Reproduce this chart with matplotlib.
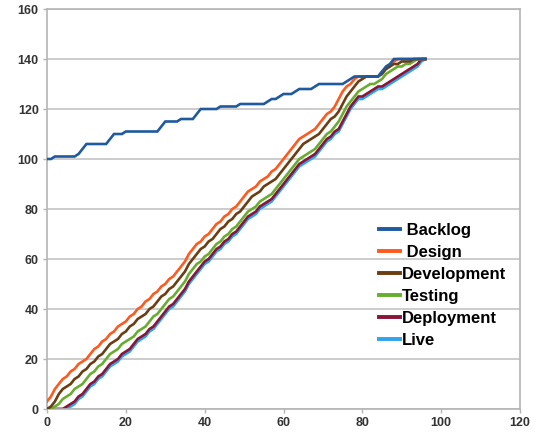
import matplotlib
matplotlib.use("Agg")
import matplotlib.pyplot as plt

plt.rcParams['font.family'] = ['Liberation Sans', 'DejaVu Sans']

days = list(range(97))

backlog = [100, 100, 101, 101, 101, 101, 101, 101, 102, 104,
           106, 106, 106, 106, 106, 106, 108, 110, 110, 110,
           111, 111, 111, 111, 111, 111, 111, 111, 111, 113,
           115, 115, 115, 115, 116, 116, 116, 116, 118, 120,
           120, 120, 120, 120, 121, 121, 121, 121, 121, 122,
           122, 122, 122, 122, 122, 122, 123, 124, 124, 125,
           126, 126, 126, 127, 128, 128, 128, 128, 129, 130,
           130, 130, 130, 130, 130, 130, 131, 132, 133, 133,
           133, 133, 133, 133, 133, 135, 137, 138, 140, 140,
           140, 140, 140, 140, 140, 140, 140]

design = [3, 5, 8, 10, 12, 13, 15, 16, 18, 19,
          20, 22, 24, 25, 27, 28, 30, 31, 33, 34,
          35, 37, 38, 40, 41, 43, 44, 46, 47, 49,
          50, 52, 53, 55, 57, 59, 62, 64, 66, 67,
          69, 70, 72, 74, 75, 77, 78, 80, 81, 83,
          85, 87, 88, 89, 91, 92, 93, 95, 96, 98,
          100, 102, 104, 106, 108, 109, 110, 111, 112, 114,
          116, 118, 119, 121, 124, 127, 129, 130, 132, 133,
          133, 133, 133, 133, 133, 135, 136, 137, 139, 140,
          140, 140, 140, 140, 140, 140, 140]

development = [0, 1, 3, 6, 8, 9, 10, 12, 13, 15,
               16, 18, 19, 21, 22, 24, 26, 27, 28, 30,
               31, 33, 34, 36, 37, 38, 40, 41, 43, 45,
               46, 48, 49, 51, 53, 55, 58, 60, 62, 64,
               65, 67, 68, 70, 72, 73, 75, 76, 78, 79,
               81, 83, 85, 86, 87, 89, 90, 91, 92, 94,
               96, 98, 100, 102, 104, 106, 107, 108, 109, 110,
               112, 114, 116, 117, 119, 122, 125, 127, 129, 131,
               132, 133, 133, 133, 133, 134, 136, 137, 138, 138,
               139, 139, 139, 140, 140, 140, 140]

testing = [0, 0, 1, 2, 4, 5, 6, 8, 9, 10,
           12, 14, 15, 17, 18, 20, 22, 23, 24, 26,
           27, 28, 29, 31, 32, 33, 35, 37, 38, 40,
           42, 44, 45, 47, 49, 51, 54, 56, 58, 59,
           61, 62, 64, 66, 67, 69, 70, 72, 73, 75,
           77, 79, 80, 81, 83, 84, 85, 86, 88, 90,
           92, 94, 96, 98, 100, 101, 102, 103, 104, 106,
           108, 110, 111, 113, 115, 118, 121, 123, 125, 127,
           128, 129, 130, 130, 131, 132, 134, 135, 136, 137,
           137, 138, 138, 139, 140, 140, 140]

deployment = [0, 0, 0, 0, 0, 1, 2, 3, 5, 6,
              8, 10, 11, 13, 14, 16, 18, 19, 20, 22,
              23, 24, 26, 28, 29, 30, 32, 33, 35, 37,
              39, 41, 42, 44, 46, 48, 51, 53, 55, 57,
              59, 60, 62, 64, 65, 67, 68, 70, 71, 73,
              75, 77, 78, 79, 81, 82, 83, 84, 86, 88,
              90, 92, 94, 96, 98, 99, 100, 101, 102, 104,
              106, 108, 109, 111, 112, 115, 118, 121, 123, 125,
              125, 126, 127, 128, 129, 129, 130, 131, 132, 133,
              134, 135, 136, 137, 138, 140, 140]

live = [0, 0, 0, 0, 0, 0, 1, 2, 4, 5,
        7, 9, 10, 12, 13, 15, 17, 18, 19, 21,
        22, 23, 25, 27, 28, 29, 31, 32, 34, 36,
        38, 40, 41, 43, 45, 47, 50, 52, 54, 56,
        58, 59, 61, 63, 64, 66, 67, 69, 70, 72,
        74, 76, 77, 78, 80, 81, 82, 83, 85, 87,
        89, 91, 93, 95, 97, 98, 99, 100, 101, 103,
        105, 107, 108, 110, 111, 114, 117, 120, 122, 124,
        124, 125, 126, 127, 128, 128, 129, 130, 131, 132,
        133, 134, 135, 136, 137, 139, 140]

series = [
    (" Backlog", backlog, "#1f5a9e", 6),
    (" Design", design, "#ff5a1e", 4),
    ("Development", development, "#6b3d12", 5),
    ("Testing", testing, "#68ad30", 3),
    ("Deployment", deployment, "#8a1538", 2),
    ("Live", live, "#2fa4ea", 1),
]

x_ticks = [0, 20, 40, 60, 80, 100, 120]
y_ticks = [0, 20, 40, 60, 80, 100, 120, 140, 160]

fig = plt.figure(figsize=(5.38, 4.34), dpi=100)
ax = fig.add_axes([47 / 538, 25 / 434, 473 / 538, 400 / 434])

for label, values, color, z in series:
    ax.plot(days, values, color=color, lw=1.9, label=label, zorder=z,
            solid_joinstyle="miter")

ax.set_xlim(0, 120)
ax.set_ylim(0, 160)
ax.set_xticks(x_ticks)
ax.set_yticks(y_ticks)
ax.yaxis.grid(True, color="#c4c4c4", lw=1.2)
ax.set_axisbelow(True)
for side in ["left", "bottom", "right", "top"]:
    ax.spines[side].set_color("#b4b4b4")
    ax.spines[side].set_linewidth(1.2)
ax.tick_params(axis="both", length=3, width=1, color="#b4b4b4",
               labelsize=9, labelcolor="#333333", pad=3)
for lab in ax.get_xticklabels() + ax.get_yticklabels():
    lab.set_fontweight("bold")

leg = ax.legend(loc="upper left", bbox_to_anchor=(367 / 538, 1 - 211 / 434),
                bbox_transform=fig.transFigure, frameon=False,
                prop={"weight": "bold", "size": 12},
                handlelength=1.3, handletextpad=0.1, labelspacing=0.42,
                borderpad=0.2)
for h in leg.get_lines():
    h.set_linewidth(2.8)

fig.savefig("out.png", dpi=100)
